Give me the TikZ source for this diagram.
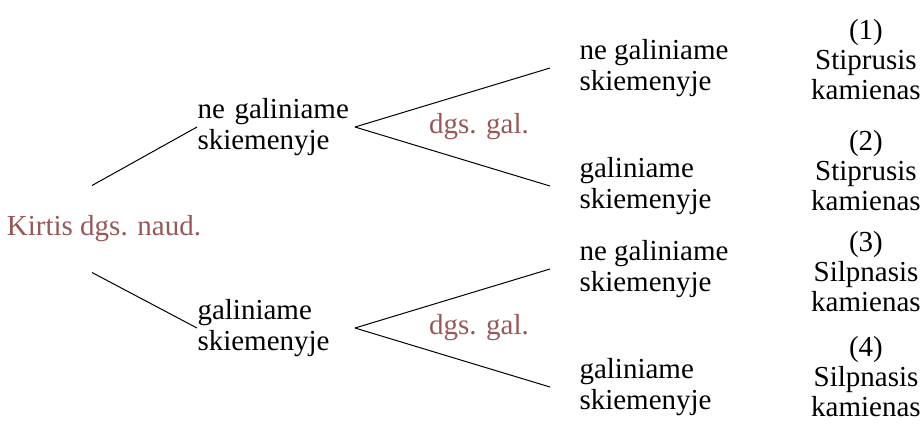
\documentclass[tikz,border=0pt]{standalone}
\usepackage{fontspec}
\setmainfont{Liberation Serif}
\usepackage{tikz}
\usetikzlibrary{positioning}
\definecolor{kirtis}{RGB}{152,88,88}

\begin{document}
\begin{tikzpicture}[x=0.4pt,y=-0.4pt,
      every node/.style={font=\fontsize{11.6pt}{12.2pt}\selectfont,inner sep=0},
      branch/.style={anchor=west,text width=62.8pt,align=left},
      leaf/.style={anchor=west,inner xsep=11.6pt,align=left},
      stem/.style={align=center,font=\fontsize{11.6pt}{12pt}\selectfont},
      tag/.style={text=kirtis},
      every path/.style={line width=0.4pt}]
    \useasboundingbox (0,0) rectangle (923,423);
    \node[tag,minimum height=34.4pt] (root) at (104,229) {Kirtis dgs. naud.};
    \node[branch] (n1) at (197,127) {ne galiniame\\skiemenyje};
    \node[branch] (n2) at (197,328) {galiniame\\skiemenyje};
    \node[tag] (g1) at (479,127) {dgs. gal.};
    \node[tag] (g2) at (479,328) {dgs. gal.};
    \node[leaf] (l1) at (550,68)  {ne galiniame\\skiemenyje};
    \node[leaf] (l2) at (550,186) {galiniame\\skiemenyje};
    \node[leaf] (l3) at (550,269) {ne galiniame\\skiemenyje};
    \node[leaf] (l4) at (550,387) {galiniame\\skiemenyje};
    \node[stem] (s1) at (866,60)  {(1)\\Stiprusis\\kamienas};
    \node[stem] (s2) at (866,171) {(2)\\Stiprusis\\kamienas};
    \node[stem] (s3) at (866,272) {(3)\\Silpnasis\\kamienas};
    \node[stem] (s4) at (866,377) {(4)\\Silpnasis\\kamienas};

    \draw ([xshift=-4.8pt]root.north) -- (n1.west);
    \draw ([xshift=-4.8pt]root.south) -- (n2.west);
    \path [draw] (n1.east) edge (l1.west) edge (l2.west)
                 (n2.east) edge (l3.west) edge (l4.west);
\end{tikzpicture}
\end{document}
